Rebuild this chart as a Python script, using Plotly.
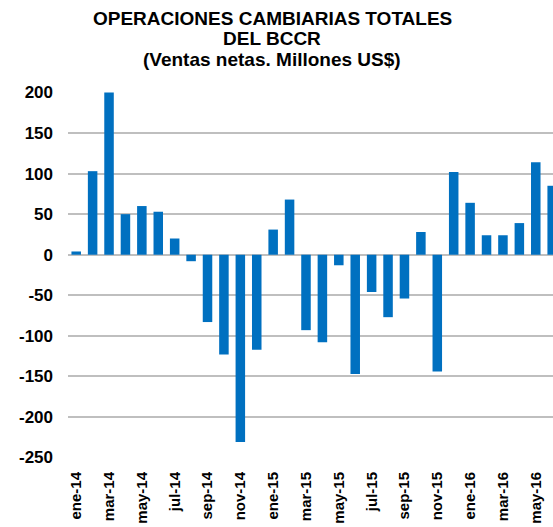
import plotly.graph_objects as go

months = ["ene-14","feb-14","mar-14","abr-14","may-14","jun-14","jul-14","ago-14","sep-14","oct-14","nov-14","dic-14",
          "ene-15","feb-15","mar-15","abr-15","may-15","jun-15","jul-15","ago-15","sep-15","oct-15","nov-15","dic-15",
          "ene-16","feb-16","mar-16","abr-16","may-16","jun-16"]
values = [4, 103, 200, 50, 60, 53, 20, -8, -83, -123, -231, -117,
          31, 68, -93, -108, -13, -147, -46, -77, -54, 28, -144, 102,
          64, 24, 24, 39, 114, 85]
tick_labels = months[::2]
y_ticks = [-250, -200, -150, -100, -50, 0, 50, 100, 150, 200]
title_lines = ["OPERACIONES CAMBIARIAS TOTALES", "DEL BCCR", "(Ventas netas. Millones US$)"]

W, H = 553, 527
L, R, T, B = 68, 0, 92, 69
plot_h = H - T - B
plot_w = W - L - R

fig = go.Figure(go.Bar(x=months, y=values, marker=dict(color="#0070C0", line=dict(width=0)),
                       width=0.58))

title_y_px = [18, 38, 59]
annotations = []
for line, ypx in zip(title_lines, title_y_px):
    annotations.append(dict(
        text="<b>%s</b>" % line, xref="paper", yref="paper",
        x=(272 - L) / plot_w, y=(H - B - ypx) / plot_h,
        xanchor="center", yanchor="middle", showarrow=False,
        font=dict(size=19, family="Liberation Sans, Arial", color="black"),
    ))

fig.update_layout(
    width=W, height=H,
    margin=dict(l=L, r=R, t=T, b=B, autoexpand=False),
    paper_bgcolor="white", plot_bgcolor="white",
    showlegend=False,
    font=dict(family="Liberation Sans, Arial", color="black"),
    annotations=annotations,
)
fig.update_xaxes(
    type="category", range=[-0.5, 29.05],
    tickmode="array", tickvals=tick_labels, ticktext=["<b>%s</b>" % t for t in tick_labels],
    tickangle=-90, tickfont=dict(size=15, color="black"),
    showgrid=False, showline=False, ticks="", ticklabelstandoff=10,
)
fig.update_yaxes(
    range=[-250.6, 200.6], tickvals=y_ticks, ticktext=["<b>%d</b>" % v for v in y_ticks],
    tickfont=dict(size=17, color="black"),
    showgrid=True, gridcolor="#BFBFBF", gridwidth=1.5,
    zeroline=True, zerolinecolor="#BFBFBF", zerolinewidth=1.5,
    showline=False, ticks="", ticklabelstandoff=14,
)

fig.write_html("out.html", config={"displayModeBar": False},
               post_script="document.body.style.margin='0';document.body.style.overflow='hidden';")
